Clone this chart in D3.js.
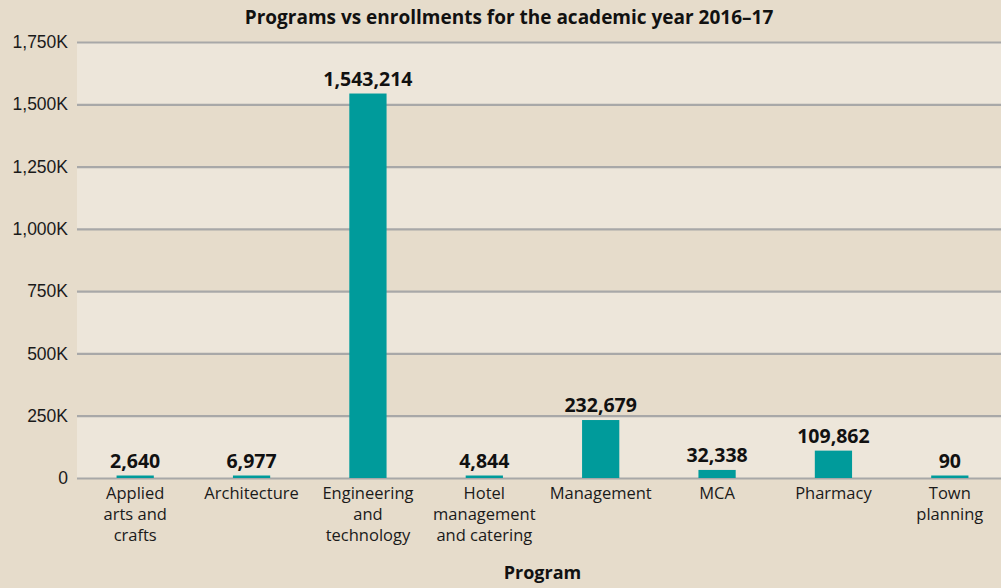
<!DOCTYPE html>
<html>
<head>
<meta charset="utf-8">
<script src="https://cdn.jsdelivr.net/npm/d3@7"></script>
<style>
  body { margin: 0; background: #e6dccb; }
  svg { display: block; font-family: "Open Sans", "Noto Sans", sans-serif; }
</style>
</head>
<body>
<svg id="chart"></svg>
<script>
var programs = ["Applied arts and crafts", "Architecture", "Engineering and technology",
  "Hotel management and catering", "Management", "MCA", "Pharmacy", "Town planning"];
var programLines = [["Applied", "arts and", "crafts"], ["Architecture"], ["Engineering", "and", "technology"],
  ["Hotel", "management", "and catering"], ["Management"], ["MCA"], ["Pharmacy"], ["Town", "planning"]];
var enrollments = [2640, 6977, 1543214, 4844, 232679, 32338, 109862, 90];
var yTicks = [0, 250000, 500000, 750000, 1000000, 1250000, 1500000, 1750000];

var svgWidth = 1001, svgHeight = 588;
var margin = { top: 42, right: -7, bottom: 110, left: 77 };

var svg = d3.select("#chart")
  .attr("width", svgWidth)
  .attr("height", svgHeight);

var xScale = d3.scaleBand()
  .domain(programs)
  .range([margin.left, svgWidth - margin.right])
  .paddingInner(0.68)
  .paddingOuter(0.34);

var yScale = d3.scaleLinear()
  .domain([0, 1750000])
  .range([svgHeight - margin.bottom, margin.top]);

// alternating bands
svg.append("g")
  .selectAll("rect")
  .data(d3.pairs(yTicks))
  .enter().append("rect")
  .attr("x", margin.left)
  .attr("y", d => yScale(d[1]))
  .attr("width", svgWidth - margin.left)
  .attr("height", d => yScale(d[0]) - yScale(d[1]))
  .attr("fill", (d, i) => i % 2 === 0 ? "#ede6da" : "#e6dccb");

// gridlines + y labels
var yAxis = d3.axisLeft(yScale)
  .tickValues(yTicks)
  .tickSize(-(svgWidth - margin.left))
  .tickPadding(9)
  .tickFormat(d => d === 0 ? "0" : d3.format(",")(d / 1000) + "K");

var gy = svg.append("g")
  .attr("transform", `translate(${margin.left}, 0)`)
  .call(yAxis);
gy.select(".domain").remove();
gy.selectAll("line").attr("stroke", "#a8a8a8").attr("stroke-width", 2.2);
gy.selectAll("text")
  .style("font-size", "17.5px")
  .attr("fill", "#1a1a1a");

// bars
svg.append("g")
  .selectAll("rect")
  .data(enrollments)
  .enter().append("rect")
  .attr("x", (d, i) => xScale(programs[i]))
  .attr("y", d => Math.min(yScale(d), yScale(0) - 2.5))
  .attr("width", xScale.bandwidth())
  .attr("height", d => Math.max(yScale(0) - yScale(d), 2.5))
  .attr("fill", "#009b9b");

// value labels
svg.append("g")
  .selectAll("text")
  .data(enrollments)
  .enter().append("text")
  .attr("x", (d, i) => xScale(programs[i]) + xScale.bandwidth() / 2)
  .attr("y", d => Math.min(yScale(d), yScale(0) - 2.5) - 8)
  .attr("text-anchor", "middle")
  .style("font-size", "19.5px")
  .style("font-weight", "bold")
  .attr("fill", "#111")
  .text(d => d3.format(",")(d));

// category labels
var cat = svg.append("g")
  .selectAll("text")
  .data(programLines)
  .enter().append("text")
  .attr("x", (d, i) => xScale(programs[i]) + xScale.bandwidth() / 2)
  .attr("y", yScale(0) + 21)
  .attr("text-anchor", "middle")
  .style("font-size", "16.5px")
  .attr("fill", "#1a1a1a");
cat.selectAll("tspan")
  .data(d => d)
  .enter().append("tspan")
  .attr("x", function () { return d3.select(this.parentNode).attr("x"); })
  .attr("dy", (d, i) => i === 0 ? 0 : 21)
  .text(d => d);

svg.append("text")
  .attr("x", (margin.left + svgWidth - margin.right) / 2)
  .attr("y", 579)
  .attr("text-anchor", "middle")
  .style("font-size", "18px")
  .style("font-weight", "bold")
  .attr("fill", "#111")
  .text("Program");

svg.append("text")
  .attr("x", 509)
  .attr("y", 24)
  .attr("text-anchor", "middle")
  .style("font-size", "19px")
  .style("font-weight", "bold")
  .attr("fill", "#111")
  .text("Programs vs enrollments for the academic year 2016–17");
</script>
</body>
</html>
